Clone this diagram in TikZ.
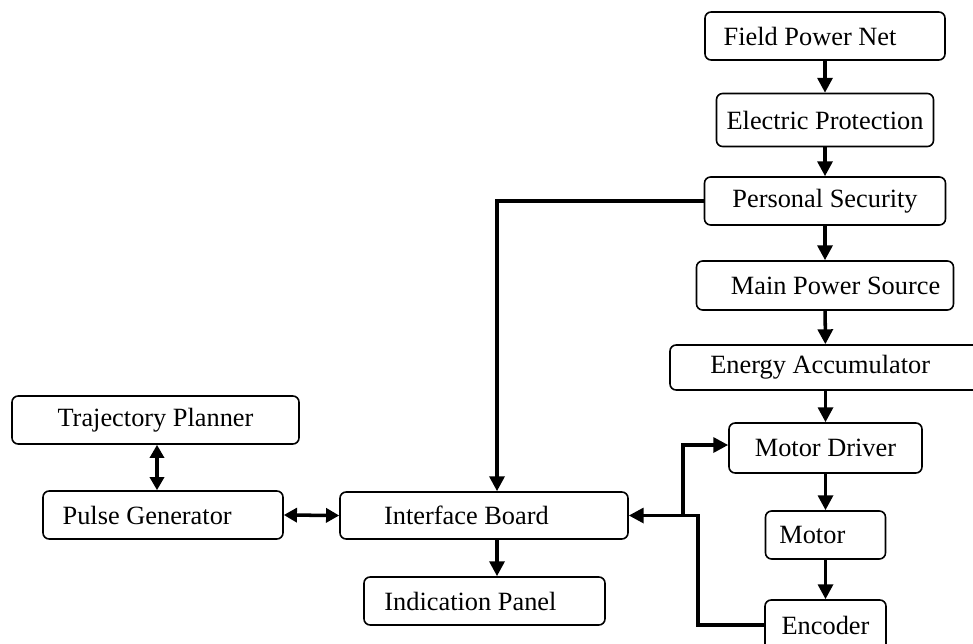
\documentclass[tikz,border=0pt]{standalone}
\usepackage{fontspec}
\setmainfont{Liberation Serif}
\usetikzlibrary{calc,arrows.meta}
\tikzset{
  blk/.style={draw, line width=0.9pt, rounded corners=3.5pt, inner sep=0pt},
  flow/.style={line width=2pt, -{Triangle[length=8.5pt,width=8.5pt]}},
  twoway/.style={line width=2pt, {Triangle[length=7.5pt,width=8pt]}-{Triangle[length=7.5pt,width=8pt]}},
  link/.style={line width=2pt}
}

\begin{document}
\begin{tikzpicture}[x=0.02cm, y=-0.02cm, font=\fontsize{15}{18}\selectfont]
  \useasboundingbox (0,0) rectangle (973,643);

  % Power chain on the right
  \node[blk, minimum width=240*0.02cm, minimum height=48*0.02cm] (field) at (825,36) {Field Power Net\hspace*{17pt}};
  \node[blk, minimum width=217*0.02cm, minimum height=53*0.02cm] (elec) at (825,120) {Electric Protection};
  \node[blk, minimum width=241*0.02cm, minimum height=48*0.02cm] (pers) at (825,201) {Personal Security};
  \node[blk, minimum width=257*0.02cm, minimum height=49*0.02cm] (mainps) at (825,285.5) {\hspace*{12pt}Main Power Source};
  \node[blk, minimum width=311*0.02cm, minimum height=45*0.02cm] (energy) at (825.5,367.5) {Energy Accumulator\hspace*{6pt}};
  \node[blk, minimum width=193*0.02cm, minimum height=50*0.02cm] (driver) at (825.5,448) {Motor Driver};
  \node[blk, minimum width=120*0.02cm, minimum height=48*0.02cm] (motor) at (825.5,535) {Motor\hspace*{15pt}};
  \node[blk, minimum width=121*0.02cm, minimum height=50*0.02cm] (encoder) at (825.5,625) {Encoder};

  % Control side
  \node[blk, minimum width=288*0.02cm, minimum height=47*0.02cm] (iface) at (484,515.5) {Interface Board\hspace*{20pt}};
  \node[blk, minimum width=241*0.02cm, minimum height=48*0.02cm] (indic) at (484.5,601) {Indication Panel\hspace*{16pt}};
  \node[blk, minimum width=287*0.02cm, minimum height=48*0.02cm] (traj) at (155.5,420) {Trajectory Planner};
  \node[blk, minimum width=240*0.02cm, minimum height=48*0.02cm] (pulse) at (163,515) {Pulse Generator\hspace*{18pt}};

  % Vertical arrows
  \draw[flow] (field) -- (elec);
  \draw[flow] (elec) -- (pers);
  \draw[flow] (pers) -- (mainps);
  \draw[flow] (mainps) -- (energy);
  \draw[flow] (energy) -- (driver);
  \draw[flow] (driver) -- (motor);
  \draw[flow] (motor) -- (encoder);

  % Security line to interface board
  \draw[flow] (pers.west) -| ($(iface.north)+(13,0)$);
  \draw[flow] ($(iface.south)+(13,0)$) coordinate (ib) -- (ib |- indic.north);

  % Motor feedback loop
  \coordinate (jn) at ($(iface.east)+(54,0)$);
  \draw[flow] (jn) -- (iface.east);
  \draw[flow] (jn) |- ($(driver.west)+(0,-3)$);
  \draw[link] (encoder.west) -| ($(jn)+(15,0)$) -- (jn);

  % Two-way links
  \draw[twoway] (pulse.east) -- (iface.west);
  \draw[twoway] ($(traj.south)+(1.5,0)$) coordinate (tp) -- (tp |- pulse.north);
\end{tikzpicture}
\end{document}
